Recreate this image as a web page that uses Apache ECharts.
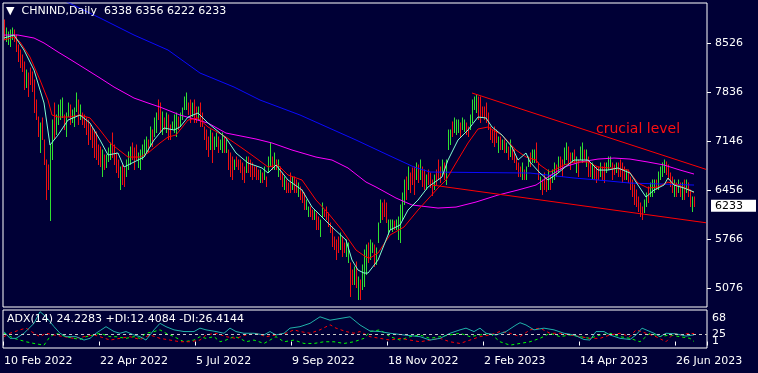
<!DOCTYPE html>
<html><head><meta charset="utf-8">
<script src="https://cdn.jsdelivr.net/npm/echarts@6/dist/echarts.min.js"></script>
<style>html,body{margin:0;padding:0;background:#000036;}#c{width:758px;height:373px;}</style>
</head><body><div id="c"></div>
<script>
const symbol = 'CHNIND';
const period = 'Daily';
const tickLabels = ['10 Feb 2022','22 Apr 2022','5 Jul 2022','9 Sep 2022','18 Nov 2022','2 Feb 2023','14 Apr 2023','26 Jun 2023'];
const tickStep = 48;
const slotCount = 352;
const priceTicks = [5076, 5766, 6456, 7146, 7836, 8526];
const priceMin = 4809, priceMax = 9089;
const adxMin = 1, adxMax = 68;
const adxLevel = 25;

const opens = [8800,8580,8530,8510,8600,8680,8600,8470,8400,8330,
8220,7930,8070,8140,8080,7960,7690,7450,7020,7430,
7120,6830,6770,6300,6950,7620,7260,7400,7480,7500,
7490,7240,7510,7620,7420,7370,7580,7690,7470,7520,
7490,7440,7410,7350,7300,7270,7240,7060,7030,6680,
6930,6790,6870,6900,7220,7060,6950,6850,6490,6780,
6740,6660,6760,6830,7090,7020,7060,6790,6770,6900,
6950,7000,7140,7090,7280,7230,7290,7690,7640,7260,
7450,7290,7480,7350,7320,7280,7230,7460,7360,7460,
7600,7610,7660,7690,7500,7690,7600,7460,7650,7520,
7320,7270,7170,7050,7220,7040,7080,7180,7040,7000,
7180,7000,6990,6940,6890,6760,6900,6860,6860,6810,
6760,6720,6890,6850,6810,6760,6760,6720,6570,6680,
6620,6620,6720,6810,6900,6760,6860,6660,6760,6670,
6480,6580,6540,6670,6480,6620,6580,6380,6480,6440,
6390,6190,6090,6200,6160,6050,6110,6060,5810,6090,
6160,6200,6110,5980,5910,5780,5730,5770,5630,5770,
5700,5530,5450,5400,5310,5140,5410,4930,5170,5070,
5120,5280,5690,5490,5580,5660,5420,5730,6010,6250,
6290,6250,5840,5910,5880,6000,5910,5780,5750,6060,
6270,6610,6480,6670,6740,6750,6620,6780,6620,6750,
6710,6480,6710,6670,6570,6480,6710,6850,6760,6690,
6810,6550,7040,7110,7390,7280,7250,7280,7380,7320,
7290,7380,7330,7320,7420,7600,7560,7740,7740,7610,
7600,7660,7520,7330,7280,7320,7280,7000,7180,7040,
7140,7000,7040,6940,7040,7000,6900,6810,6760,6620,
6720,6620,6800,6950,6860,6860,7090,6810,6480,6570,
6670,6600,6480,6640,6570,6620,6790,6730,6900,6850,
6830,6900,7040,6950,6850,7000,6710,6850,6900,6860,
7000,6800,6900,6820,6620,6760,6760,6760,6660,6760,
6810,6710,6760,6800,6810,6790,6710,6810,6850,6810,
6760,6620,6710,6620,6570,6500,6430,6340,6250,6200,
6150,6240,6470,6380,6380,6430,6580,6480,6620,6660,
6710,6830,6790,6680,6620,6380,6530,6430,6530,6340,
6570,6430,6530,6430,6170,6338];

const highs = [8849,8737,8680,8709,8737,8709,8638,8497,8427,8357,
8258,8145,8103,8174,8117,8005,7723,7484,7399,7470,
7160,6878,6808,7089,7441,7681,7512,7653,7723,7751,
7512,7540,7681,7653,7582,7610,7822,7723,7653,7540,
7512,7470,7441,7371,7329,7301,7272,7089,7061,7019,
6949,6949,7047,7118,7258,7089,6977,6878,6780,6808,
6766,6878,6991,7061,7118,7047,7089,6977,7019,7089,
7160,7202,7160,7343,7301,7470,7540,7723,7681,7554,
7470,7540,7512,7371,7413,7512,7540,7484,7540,7610,
7765,7822,7681,7723,7681,7723,7624,7624,7681,7540,
7343,7301,7202,7301,7258,7202,7258,7202,7160,7258,
7202,7160,7019,6977,6920,6878,6920,6878,6878,6836,
6780,6920,6920,6878,6836,6780,6780,6737,6737,6695,
6780,6639,6920,7118,6920,6977,6878,6878,6780,6695,
6639,6597,6554,6695,6639,6639,6597,6554,6498,6456,
6414,6315,6216,6216,6174,6174,6132,6076,6033,6273,
6174,6216,6132,5991,5935,5794,5752,5794,5850,5794,
5710,5752,5710,5428,5329,5372,5442,5231,5188,5400,
5611,5681,5710,5752,5710,5681,5639,5991,6315,6273,
6315,6273,6033,6033,6033,6019,6033,6076,6245,6414,
6597,6639,6780,6695,6766,6780,6836,6808,6878,6780,
6737,6667,6737,6695,6597,6667,6737,6878,6780,6878,
6836,6878,7301,7301,7413,7470,7441,7441,7399,7470,
7441,7399,7343,7512,7723,7765,7793,7765,7765,7624,
7624,7681,7540,7343,7301,7343,7301,7202,7202,7160,
7160,7118,7061,7160,7061,7019,6920,6836,6780,6836,
6737,6780,6920,6977,7019,7019,7118,6836,6639,6597,
6695,6625,6737,6667,6737,6836,6808,6920,6920,6878,
7047,7118,7061,6977,6977,7019,6920,6878,7061,7118,
7019,7019,6920,6836,6836,6780,6780,6780,6836,6780,
6836,6836,6920,6920,6836,6808,6836,6836,6878,6836,
6780,6737,6737,6639,6597,6526,6456,6357,6273,6216,
6315,6414,6498,6554,6597,6597,6597,6709,6780,6836,
6878,6850,6808,6695,6639,6597,6554,6597,6554,6554,
6597,6597,6554,6456,6357,6356];

const lows = [8568,8540,8497,8469,8568,8540,8399,8258,8174,8117,
7864,7892,7765,7934,7836,7540,7441,7202,6977,7160,
6808,6315,6456,6019,6878,7160,7230,7371,7441,7470,
7301,7202,7484,7371,7399,7343,7554,7371,7441,7371,
7329,7230,7089,7160,7047,6906,6878,6808,6780,6639,
6737,6766,6850,6878,6906,6808,6695,6625,6456,6526,
6498,6639,6737,6808,6878,6737,6878,6766,6737,6878,
6920,6977,6977,7061,7061,7202,7258,7441,7258,7230,
7301,7258,7160,7160,7301,7258,7202,7301,7343,7441,
7582,7582,7512,7399,7484,7399,7399,7441,7343,7343,
7160,7019,6920,7019,6836,7019,7061,6977,7019,6977,
6977,6977,6737,6639,6597,6737,6780,6737,6695,6597,
6554,6695,6695,6639,6597,6639,6597,6597,6554,6554,
6597,6498,6695,6780,6737,6737,6737,6639,6597,6498,
6456,6414,6414,6414,6456,6414,6414,6357,6315,6273,
6174,6174,6076,6076,6033,6033,5893,5893,5794,6076,
6076,6033,5935,5850,5653,5611,5470,5569,5611,5512,
5569,5512,5428,4949,5118,5118,5076,4907,4907,5048,
5090,5259,5428,5470,5569,5372,5400,5710,5991,6033,
6076,5991,5822,5893,5864,5893,5893,5752,5710,6033,
6245,6315,6456,6414,6526,6385,6597,6554,6597,6498,
6456,6456,6526,6484,6371,6456,6526,6597,6554,6667,
6597,6526,7019,7089,7202,7258,7230,7258,7202,7301,
7272,7230,7202,7301,7399,7582,7540,7441,7399,7484,
7441,7399,7301,7160,7118,7061,7118,6977,7019,7019,
6977,6977,6878,6920,6878,6836,6737,6639,6639,6597,
6597,6597,6780,6780,6836,6836,6836,6597,6456,6385,
6456,6428,6456,6456,6554,6597,6639,6709,6737,6639,
6808,6878,6836,6737,6836,6836,6695,6639,6878,6836,
6878,6780,6639,6639,6597,6597,6554,6597,6639,6597,
6554,6695,6737,6780,6597,6667,6695,6639,6639,6554,
6597,6597,6554,6456,6357,6245,6216,6146,6076,6033,
6132,6216,6273,6357,6357,6414,6456,6456,6597,6639,
6695,6667,6597,6498,6414,6357,6357,6414,6357,6315,
6315,6414,6357,6216,6146,6222];

const closes = [8620,8700,8650,8670,8710,8570,8430,8290,8200,8150,
7900,8110,7800,7960,7870,7580,7470,7240,7350,7200,
6840,6360,6490,7000,7380,7210,7480,7620,7690,7720,
7330,7500,7650,7400,7560,7580,7790,7400,7620,7390,
7350,7260,7120,7180,7070,6940,6910,6840,6810,6980,
6760,6920,7020,7090,6940,6840,6720,6650,6750,6550,
6520,6850,6960,7030,6900,6770,6900,6950,6990,7060,
7130,7170,7000,7310,7090,7440,7510,7470,7290,7520,
7320,7510,7190,7180,7400,7490,7510,7320,7520,7590,
7740,7790,7530,7430,7660,7430,7420,7600,7370,7360,
7180,7050,6950,7270,6870,7180,7230,7000,7140,7230,
7000,7140,6770,6670,6630,6860,6800,6760,6720,6620,
6580,6900,6720,6660,6620,6660,6620,6620,6720,6570,
6760,6520,6890,7080,6760,6950,6760,6850,6620,6520,
6620,6430,6430,6440,6620,6440,6430,6530,6330,6290,
6200,6300,6200,6090,6050,6160,5910,5910,6010,6250,
6090,6050,5950,5860,5680,5630,5490,5590,5830,5530,
5580,5730,5690,4980,5140,5350,5100,5200,4930,5370,
5580,5650,5450,5730,5700,5390,5620,5970,6290,6050,
6090,6010,6010,6020,6010,5910,6020,6050,6220,6390,
6570,6340,6750,6440,6550,6410,6810,6580,6850,6520,
6480,6640,6550,6500,6390,6640,6550,6620,6570,6850,
6620,6850,7270,7280,7220,7450,7420,7420,7220,7450,
7420,7250,7220,7490,7700,7750,7770,7470,7420,7500,
7460,7420,7320,7180,7130,7090,7130,7180,7040,7140,
7000,7100,6900,7140,6900,6850,6760,6660,6660,6810,
6620,6760,6900,6800,7000,7000,6860,6620,6620,6410,
6480,6450,6710,6480,6720,6810,6660,6900,6760,6660,
7020,7090,6860,6760,6960,6850,6900,6660,7040,7090,
6890,7000,6660,6660,6810,6620,6580,6620,6810,6620,
6580,6820,6900,6900,6620,6680,6820,6660,6660,6580,
6620,6720,6580,6480,6380,6270,6240,6170,6100,6050,
6300,6390,6300,6530,6570,6580,6470,6690,6760,6820,
6860,6690,6620,6520,6440,6570,6380,6580,6380,6530,
6340,6580,6380,6240,6330,6233];

// moving averages: [bar index, value]
const maFast = [[0,8596],[5,8638],[10,8427],[15,8145],[20,7681],[23,7089],[27,7230],[32,7441],[38,7512],[43,7399],[48,7160],[52,6949],[57,6977],[60,6780],[65,6850],[70,6920],[75,7160],[80,7329],[85,7301],[88,7343],[92,7484],[97,7540],[102,7399],[111,7188],[116,6977],[122,6836],[129,6766],[132,6695],[136,6808],[142,6597],[149,6456],[154,6216],[159,6076],[164,5935],[171,5752],[174,5470],[177,5329],[180,5287],[182,5287],[187,5470],[193,5893],[198,5963],[202,6174],[207,6315],[212,6498],[219,6639],[222,6878],[227,7160],[232,7301],[237,7484],[241,7470],[244,7343],[249,7230],[254,7061],[257,6878],[261,6977],[263,6850],[268,6695],[272,6597],[277,6695],[280,6766],[285,6878],[292,6878],[297,6737],[302,6737],[307,6766],[313,6695],[318,6484],[321,6357],[325,6456],[330,6526],[332,6625],[335,6526],[340,6484],[345,6428]];
const maMid = [[0,8568],[5,8610],[8,8540],[13,8328],[18,8005],[22,7723],[24,7512],[27,7484],[33,7484],[38,7512],[43,7470],[48,7301],[53,7118],[62,6920],[68,6920],[72,6977],[78,7118],[82,7202],[86,7230],[92,7441],[97,7470],[102,7343],[111,7202],[119,7047],[126,6906],[132,6780],[137,6808],[142,6667],[149,6597],[156,6315],[162,6132],[169,5893],[176,5611],[181,5512],[183,5498],[187,5569],[193,5822],[200,5935],[207,6174],[217,6484],[221,6597],[226,6836],[232,7118],[237,7315],[242,7343],[249,7230],[256,7019],[261,6920],[266,6878],[268,6808],[273,6709],[280,6808],[285,6850],[292,6850],[297,6780],[303,6766],[312,6737],[317,6554],[322,6484],[327,6498],[332,6568],[337,6526],[343,6456],[345,6414]];
const maSlow = [[0,8638],[7,8638],[15,8596],[20,8526],[27,8399],[32,8314],[40,8174],[48,8033],[55,7906],[65,7751],[72,7681],[78,7624],[88,7512],[102,7399],[111,7258],[126,7174],[134,7118],[144,7019],[156,6920],[164,6878],[172,6766],[181,6568],[186,6498],[196,6343],[204,6245],[217,6202],[226,6216],[236,6287],[247,6385],[257,6456],[266,6526],[272,6639],[280,6780],[288,6850],[297,6892],[305,6906],[313,6892],[322,6850],[330,6808],[338,6737],[345,6681]];
const maLong = [[28,9150],[48,8878],[65,8638],[82,8427],[98,8103],[115,7906],[128,7723],[148,7512],[176,7160],[192,6949],[205,6780],[213,6709],[263,6695],[285,6625],[297,6597],[313,6554],[345,6526]];

const trendUpper = [[234,7822],[351,6747]];
const trendLower = [[214,6526],[351,5995]];
const noteText = 'crucial level';
const notePoint = [317, 7308];

const adxValue = 24.2283, plusDIValue = 12.4084, minusDIValue = 26.4144;
const adxMain = [[0,29.8],[3,18],[6,18],[10,27],[15,44.5],[18,65],[21,56],[25,38.6],[28,27],[31,21],[36,21],[40,15],[43,18],[46,27],[51,38.6],[55,30],[58,27],[61,30],[65,24],[68,21],[71,15],[75,33],[78,44.5],[81,38.6],[85,33],[90,30],[95,30],[98,36],[101,33],[106,30],[110,27],[113,36],[116,30],[120,27],[125,27],[130,24],[133,30],[136,24],[140,27],[143,36],[148,38.6],[153,44.5],[158,56],[163,50],[168,53],[173,56],[178,41.6],[183,31],[188,30],[193,27],[200,24],[208,21],[213,15],[218,18],[223,27],[228,33],[231,36],[235,30],[238,36],[241,27],[246,24],[251,30],[256,41.6],[258,45.6],[261,41.6],[265,33],[270,36],[275,33],[280,27],[285,24],[290,16],[293,15],[296,30],[300,30],[303,24],[308,18],[313,16],[316,24],[319,36],[321,33],[325,27],[328,21],[331,27],[336,26],[341,22],[345,adxValue]];
const plusDI = [[0,27],[5,18],[8,15],[11,12],[15,9],[20,6],[23,21],[26,27],[31,21],[35,18],[38,16],[41,21],[45,24],[48,27],[53,21],[56,21],[61,18],[65,21],[68,18],[71,27],[75,30],[78,33],[81,27],[85,21],[90,12],[95,15],[98,21],[101,18],[105,21],[108,12],[111,15],[115,21],[118,18],[121,12],[125,15],[130,9],[133,15],[136,21],[140,12],[145,15],[150,9],[155,9],[160,12],[165,12],[170,9],[175,12],[180,18],[183,30],[188,33],[193,21],[198,15],[203,21],[208,24],[213,18],[218,21],[223,24],[228,27],[233,21],[238,24],[243,27],[248,12],[253,6],[258,9],[263,12],[268,18],[273,27],[278,21],[283,24],[288,21],[293,18],[298,24],[303,27],[308,21],[313,18],[318,12],[323,27],[328,21],[333,24],[338,21],[343,18],[345,plusDIValue]];
const minusDI = [[0,21],[3,27],[8,33],[11,36],[15,27],[18,21],[21,27],[25,24],[30,21],[35,18],[40,21],[45,24],[48,21],[53,15],[58,18],[63,21],[68,16],[73,24],[78,18],[83,15],[88,12],[93,12],[98,15],[101,24],[106,27],[111,21],[116,18],[121,24],[126,27],[131,21],[136,24],[141,27],[145,33],[148,30],[153,27],[158,33],[163,42],[166,36],[171,30],[175,27],[178,30],[183,21],[188,18],[193,15],[198,18],[203,15],[208,12],[213,15],[218,18],[223,12],[228,9],[233,15],[238,21],[243,24],[248,30],[253,27],[258,21],[263,33],[268,36],[273,27],[278,27],[283,24],[288,21],[293,18],[298,18],[303,24],[308,27],[313,21],[316,33],[321,27],[326,21],[331,12],[335,27],[338,24],[343,27],[345,minusDIValue]];

// ---- build ----
const cats = Array.from({length: slotCount}, (_, i) => String(i));
const bars = opens.map((o, i) => [i, o, closes[i], lows[i], highs[i]]);
const last = opens.length - 1;
const FONT = 'DejaVu Sans';
const BG = '#000036';
const UP = '#30e030', DOWN = '#f01010';

const chart = echarts.init(document.getElementById('c'), null, {renderer: 'canvas'});
const lineS = (data, color, z, extra) => Object.assign({
  type: 'line', data, xAxisIndex: 0, yAxisIndex: 0, showSymbol: false, symbol: 'none',
  lineStyle: {color, width: 1}, z, silent: true, animation: false, clip: true
}, extra || {});
// MT4 keeps the window's max/min labels inside the panel: these helper scales only place those two labels
const labelAxis = (min, max, values) => ({type: 'value', gridIndex: 1, position: 'right', min, max,
  axisLine: {show: false}, splitLine: {show: false}, axisTick: {show: false},
  axisLabel: {show: true, color: '#fff', fontSize: 11, fontFamily: FONT, margin: 5, customValues: values,
    hideOverlap: false, formatter: v => String(v)}});

chart.setOption({
  animation: false,
  backgroundColor: BG,
  title: [
    {text: '\u25BC  ' + symbol + ',' + period + '  ' + opens[last] + ' ' + highs[last] + ' ' + lows[last] + ' ' + closes[last],
     left: 6, top: 6, padding: 0,
     textStyle: {color: '#fff', fontSize: 11, fontWeight: 'normal', fontFamily: FONT}},
    {text: 'ADX(14) ' + adxValue.toFixed(4) + ' +DI:' + plusDIValue.toFixed(4) + ' -DI:' + minusDIValue.toFixed(4),
     left: 7, top: 314, padding: 0,
     textStyle: {color: '#fff', fontSize: 11, fontWeight: 'normal', fontFamily: FONT}}
  ],
  grid: [
    {left: 3, top: 3, width: 704, height: 304, show: true, borderColor: '#fff', borderWidth: 1, backgroundColor: 'transparent', containLabel: false, outerBoundsMode: 'none'},
    {left: 3, top: 310, width: 704, height: 38, show: true, borderColor: '#fff', borderWidth: 1, backgroundColor: 'transparent', containLabel: false, outerBoundsMode: 'none'}
  ],
  xAxis: [
    {type: 'category', gridIndex: 0, data: cats, boundaryGap: true,
     axisLine: {show: false}, axisTick: {show: false}, axisLabel: {show: false}, splitLine: {show: false}},
    {type: 'category', gridIndex: 1, data: cats, boundaryGap: true,
     axisLine: {show: false},
     axisTick: {show: true, interval: tickStep - 1, length: 4, lineStyle: {color: '#fff', width: 1}},
     axisLabel: {show: true, interval: tickStep - 1, align: 'left', margin: 8, color: '#fff', fontSize: 11, fontFamily: FONT,
       formatter: (v, idx) => (idx % tickStep === 0 && tickLabels[idx / tickStep]) ? tickLabels[idx / tickStep] : ''},
     splitLine: {show: false}}
  ],
  yAxis: [
    {type: 'value', gridIndex: 0, position: 'right', min: priceMin, max: priceMax,
     axisLine: {show: false}, splitLine: {show: false},
     axisTick: {show: true, length: 4, lineStyle: {color: '#fff'}, customValues: priceTicks},
     axisLabel: {show: true, color: '#fff', fontSize: 11, fontFamily: FONT, margin: 8, customValues: priceTicks,
       hideOverlap: false, formatter: v => String(v)}},
    {type: 'value', gridIndex: 1, position: 'right', min: adxMin, max: adxMax,
     axisLine: {show: false}, splitLine: {show: false}, axisTick: {show: false},
     axisLabel: {show: true, color: '#fff', fontSize: 11, fontFamily: FONT, margin: 5, customValues: [adxLevel],
       hideOverlap: false, formatter: v => String(v)}},
    labelAxis(-19, 92.8, [adxMax]),
    labelAxis(-19, 92.8, [adxMin])
  ],
  series: [
    {type: 'custom', xAxisIndex: 0, yAxisIndex: 0, data: bars, z: 2, silent: true,
     encode: {x: 0, y: [1, 2, 3, 4]},
     renderItem: (params, api) => {
       const i = api.value(0), o = api.value(1), c = api.value(2), l = api.value(3), h = api.value(4);
       const pL = api.coord([i, l]), pH = api.coord([i, h]);
       const x = Math.round(pL[0]) + 0.5;
       return {type: 'line', shape: {x1: x, y1: Math.round(pL[1]), x2: x, y2: Math.round(pH[1]) - 0.5},
               style: {stroke: c >= o ? UP : DOWN, lineWidth: 1}};
     }},
    lineS(maLong, '#0a0aff', 3),
    lineS(maSlow, '#ff00ff', 3),
    lineS(maMid, '#ff0000', 4),
    lineS(maFast, '#7fffd4', 5),
    lineS(trendUpper, '#ff0000', 6, {
      markPoint: {silent: true, animation: false, symbol: 'rect', symbolSize: 1, itemStyle: {color: 'rgba(0,0,0,0)'},
        label: {show: true, position: 'inside', formatter: noteText, color: '#ff1010', fontSize: 14, fontFamily: FONT},
        data: [{coord: notePoint}]}}),
    lineS(trendLower, '#ff0000', 6),
    // last-price tag on the price scale
    {type: 'line', xAxisIndex: 0, yAxisIndex: 0, data: [[last, closes[last]]], showSymbol: false, symbol: 'none',
     lineStyle: {color: 'rgba(0,0,0,0)', width: 0}, clip: false, silent: true, z: 10,
     markLine: {silent: true, symbol: ['none', 'none'], animation: false,
       lineStyle: {color: 'rgba(0,0,0,0)', width: 1, type: 'solid'},
       label: {show: true, position: 'end', distance: 4, formatter: String(closes[last]),
               backgroundColor: '#ffffff', color: '#000000', fontSize: 11, fontFamily: FONT, padding: [1, 13, 0, 4]},
       data: [{yAxis: closes[last]}]}},
    {type: 'line', xAxisIndex: 1, yAxisIndex: 1, data: adxMain, showSymbol: false, symbol: 'none', z: 4,
     lineStyle: {color: '#20b2aa', width: 1}, silent: true,
     markLine: {silent: true, symbol: ['none', 'none'], animation: false, label: {show: false},
       lineStyle: {color: '#c8c8c8', width: 1, type: [3, 3]}, data: [{yAxis: adxLevel}]}},
    {type: 'line', xAxisIndex: 1, yAxisIndex: 1, data: plusDI, showSymbol: false, symbol: 'none', z: 3,
     lineStyle: {color: '#00ff00', width: 1, type: [3, 3]}, silent: true},
    {type: 'line', xAxisIndex: 1, yAxisIndex: 1, data: minusDI, showSymbol: false, symbol: 'none', z: 3,
     lineStyle: {color: '#ff0000', width: 1, type: [3, 3]}, silent: true}
  ]
});
</script></body></html>
